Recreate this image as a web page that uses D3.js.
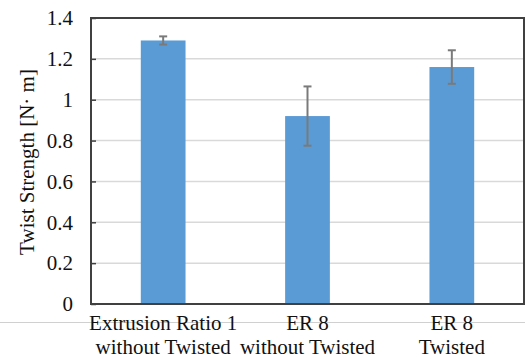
<!DOCTYPE html>
<html>
<head>
<meta charset="utf-8">
<script src="https://cdn.jsdelivr.net/npm/d3@7"></script>
<style>
  html, body { margin: 0; padding: 0; background: #fff; }
  svg { display: block; }
</style>
</head>
<body>
<div id="chart"></div>
<script>
// Twist strength by extrusion condition, mean with error bars
const categories = [
  ["Extrusion Ratio 1", "without Twisted"],
  ["ER 8", "without Twisted"],
  ["ER 8", "Twisted"]
];
const strength = [1.29, 0.92, 1.16];
const errors   = [0.02, 0.145, 0.082];
const yTicks   = [0, 0.2, 0.4, 0.6, 0.8, 1, 1.2, 1.4];

const width = 525, height = 359;
const plot = { left: 91, right: 524, top: 18, bottom: 304 };
const FONT = '"Liberation Serif"';
const BAR = "#5b9bd5";

const svg = d3.select("#chart").append("svg")
  .attr("width", width)
  .attr("height", height);

const x = d3.scaleBand()
  .domain(d3.range(categories.length))
  .range([plot.left, plot.right])
  .paddingInner(0.69)
  .paddingOuter(0.345);

const y = d3.scaleLinear()
  .domain([0, 1.4])
  .range([plot.bottom, plot.top]);

// gridlines
svg.append("g")
  .selectAll("line")
  .data(yTicks)
  .join("line")
  .attr("x1", plot.left).attr("x2", plot.right)
  .attr("y1", d => y(d)).attr("y2", d => y(d))
  .attr("stroke", "#d9d9d9")
  .attr("stroke-width", 1.5);

// stray rule across the image under the frame
svg.append("line")
  .attr("x1", 0).attr("x2", width)
  .attr("y1", 322.5).attr("y2", 322.5)
  .attr("stroke", "#d0d0d0")
  .attr("stroke-width", 1);

// bars
svg.append("g")
  .selectAll("rect")
  .data(strength)
  .join("rect")
  .attr("x", (d, i) => x(i))
  .attr("y", d => y(d))
  .attr("width", x.bandwidth())
  .attr("height", d => y(0) - y(d))
  .attr("fill", BAR);

// error bars
const errG = svg.append("g")
  .attr("stroke", "#7a7a7a")
  .attr("stroke-width", 2);

strength.forEach((v, i) => {
  const cx = x(i) + x.bandwidth() / 2;
  const hi = y(v + errors[i]), lo = y(v - errors[i]);
  errG.append("line").attr("x1", cx).attr("x2", cx).attr("y1", hi).attr("y2", lo);
  errG.append("line").attr("x1", cx - 4).attr("x2", cx + 4).attr("y1", hi).attr("y2", hi);
  errG.append("line").attr("x1", cx - 4).attr("x2", cx + 4).attr("y1", lo).attr("y2", lo);
});

// y axis ticks and labels
const yAxis = d3.axisLeft(y)
  .tickValues(yTicks)
  .tickSize(-5)
  .tickPadding(18)
  .tickFormat(d => d3.format("~g")(d));

svg.append("g")
  .attr("transform", `translate(${plot.left},0)`)
  .call(yAxis)
  .call(g => g.select(".domain").remove())
  .call(g => g.selectAll(".tick line").attr("stroke", "#404040").attr("stroke-width", 1.5))
  .call(g => g.selectAll(".tick text")
    .style("font-family", FONT)
    .style("font-size", "21px")
    .attr("fill", "#111"));

// frame
svg.append("rect")
  .attr("x", plot.left).attr("y", plot.top)
  .attr("width", plot.right - plot.left)
  .attr("height", plot.bottom - plot.top)
  .attr("fill", "none")
  .attr("stroke", "#404040")
  .attr("stroke-width", 2);

// category labels, two lines each
svg.append("g")
  .selectAll("text")
  .data(categories)
  .join("text")
  .attr("text-anchor", "middle")
  .style("font-family", FONT)
  .style("font-size", "21px")
  .attr("fill", "#111")
  .each(function (lines, i) {
    const cx = x(i) + x.bandwidth() / 2;
    d3.select(this).selectAll("tspan")
      .data(lines)
      .join("tspan")
      .attr("x", cx)
      .attr("y", (d, j) => 330 + j * 24)
      .text(d => d);
  });

// y axis title
svg.append("text")
  .attr("transform", "translate(34,162) rotate(-90)")
  .attr("text-anchor", "middle")
  .style("font-family", FONT)
  .style("font-size", "21px")
  .attr("fill", "#111")
  .text("Twist Strength [N· m]");
</script>
</body>
</html>
